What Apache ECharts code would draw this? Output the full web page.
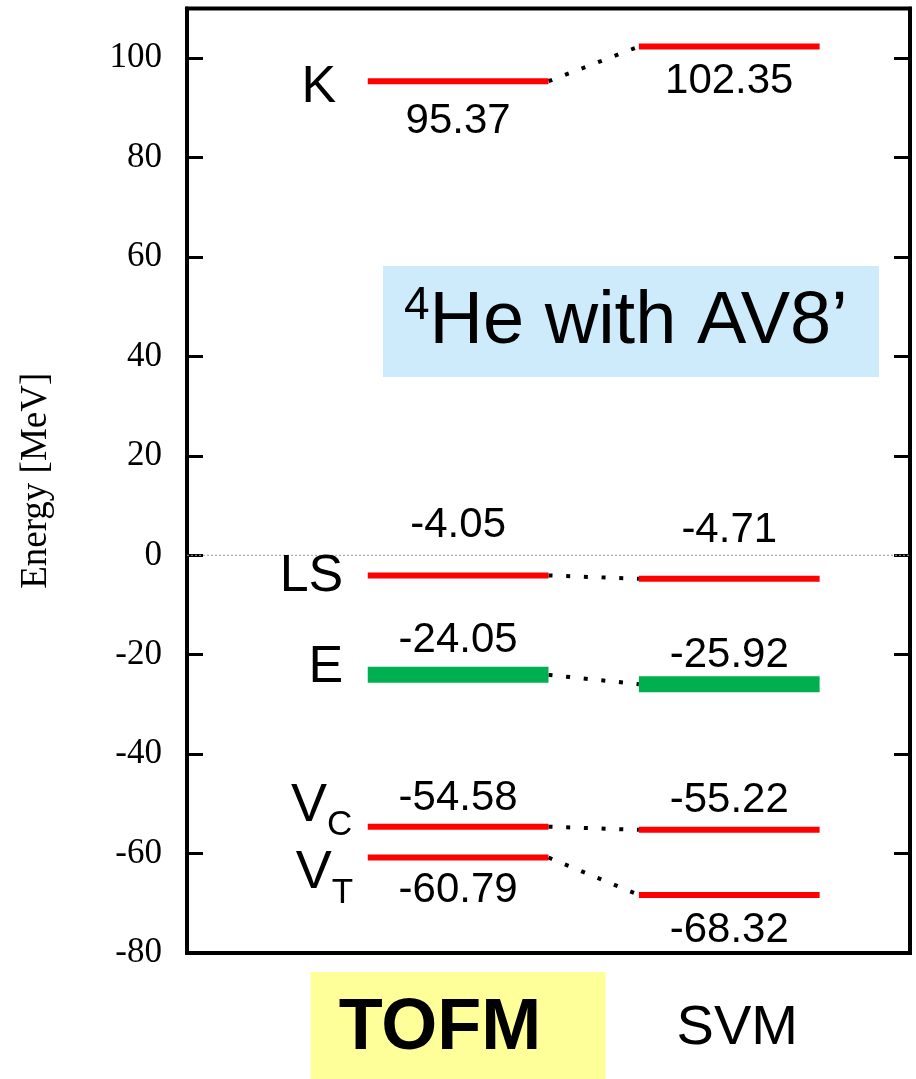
<!DOCTYPE html>
<html><head><meta charset="utf-8">
<script src="https://cdn.jsdelivr.net/npm/echarts@6/dist/echarts.min.js"></script>
<style>html,body{margin:0;padding:0;background:#fff}#c{width:916px;height:1079px}</style>
</head><body><div id="c"></div>
<script>
// ---- data ----
const methods = ['TOFM', 'SVM'];
const levels = ['K', 'LS', 'E', 'VC', 'VT'];
const tofmValues = [95.37, -4.05, -24.05, -54.58, -60.79];
const svmValues = [102.35, -4.71, -25.92, -55.22, -68.32];
const yTickLabels = [-80, -60, -40, -20, 0, 20, 40, 60, 80, 100];
const yAxisName = 'Energy [MeV]';
const titleSup = '4';
const titleMain = 'He with AV8\u2019';

// ---- layout / style ----
const SANS = '"Liberation Sans", Arial, sans-serif';
const SERIF = '"Liberation Serif", "Times New Roman", serif';
const X = { tofm: [2, 4], svm: [5, 7], tofmMid: 3, svmMid: 6 };
const nameOffsets = { K: [-7, 6], LS: [0, 1], E: [0, -7], VC: [9, -21], VT: [10, 16] };
const tofmLabelOffsets = { K: 40, LS: -50, E: -34, VC: -28, VT: 33 };
const svmLabelOffsets = { K: 35, LS: -48, E: -29, VC: -29, VT: 35 };
const levelColor = l => l === 'E' ? '#00B050' : '#FF0000';
const levelWidth = l => l === 'E' ? 16 : 6;
const levelNameText = l => l === 'VC' ? '{v|V}{s|C}' : l === 'VT' ? '{v|V}{s|T}' : '{m|' + l + '}';
const hiddenItem = { color: 'rgba(0,0,0,0)', opacity: 1 };

const series = [];
series.push({
  type: 'line', data: [[0, 0], [8, 0]], symbol: 'none', silent: true, z: 1,
  lineStyle: { color: '#9a9a9a', width: 1, type: [2, 2] }
});
levels.forEach((l, i) => {
  const t = tofmValues[i], s = svmValues[i];
  series.push({
    type: 'line', data: [[X.tofm[1], t], [X.svm[0], s]], symbol: 'none', silent: true, z: 2,
    lineStyle: { color: '#000', width: 4, type: [4, 13.7] }
  });
  series.push({
    type: 'line', data: [[X.tofm[0], t], [X.tofm[1], t]], symbol: 'none', silent: true, z: 3,
    lineStyle: { color: levelColor(l), width: levelWidth(l), cap: 'butt' }
  });
  series.push({
    type: 'line', data: [[X.svm[0], s], [X.svm[1], s]], symbol: 'none', silent: true, z: 3,
    lineStyle: { color: levelColor(l), width: levelWidth(l), cap: 'butt' }
  });
});
const valueLabel = { show: true, position: 'inside', fontSize: 42, color: '#000', opacity: 1, fontFamily: SANS,
  textBorderWidth: 0, formatter: p => p.value[1].toFixed(2) };
series.push({
  type: 'scatter', symbolSize: 1, itemStyle: hiddenItem, z: 4, silent: true,
  label: valueLabel,
  data: levels.map((l, i) => ({ value: [X.tofmMid, tofmValues[i]], label: { offset: [0, tofmLabelOffsets[l]] } }))
});
series.push({
  type: 'scatter', symbolSize: 1, itemStyle: hiddenItem, z: 4, silent: true,
  label: valueLabel,
  data: levels.map((l, i) => ({ value: [X.svmMid, svmValues[i]], label: { offset: [0, svmLabelOffsets[l]] } }))
});
series.push({
  type: 'scatter', symbolSize: 1, itemStyle: hiddenItem, z: 4, silent: true,
  label: {
    show: true, position: 'left', distance: 24, color: '#000', opacity: 1, fontFamily: SANS,
    formatter: p => levelNameText(levels[p.dataIndex]),
    rich: {
      m: { fontSize: 52, fontFamily: SANS, color: '#000' },
      v: { fontSize: 54, fontFamily: SANS, color: '#000' },
      s: { fontSize: 35, fontFamily: SANS, color: '#000', padding: [40, 0, 0, 0] }
    }
  },
  data: levels.map((l, i) => ({ value: [X.tofm[0], tofmValues[i]], label: { offset: nameOffsets[l] } }))
});

const yAxisBase = {
  type: 'value', min: -80, max: 110, interval: 20,
  axisLine: { show: true, lineStyle: { color: '#000', width: 4 } },
  axisTick: { show: true, inside: true, length: 16, lineStyle: { color: '#000', width: 3 } },
  splitLine: { show: false }
};

const chart = echarts.init(document.getElementById('c'), null, { renderer: 'canvas' });
chart.setOption({
  animation: false,
  backgroundColor: '#fff',
  grid: { left: 187, right: 6, top: 8.5, bottom: 126, show: true, borderColor: '#000', borderWidth: 4,
    containLabel: false, outerBoundsMode: 'none' },
  xAxis: {
    type: 'value', min: 0, max: 8, interval: 1,
    axisLine: { show: false }, axisTick: { show: false }, splitLine: { show: false },
    axisLabel: {
      margin: 21, showMinLabel: false, showMaxLabel: false,
      formatter: v => v === X.tofmMid ? '{t|' + methods[0] + '}' : v === X.svmMid ? '{v|' + methods[1] + '}' : '',
      rich: {
        t: { fontSize: 72, fontWeight: 'bold', fontFamily: SANS, color: '#000', backgroundColor: '#FFFF99',
          width: 267, height: 106, lineHeight: 106, align: 'left', verticalAlign: 'middle',
          padding: [4, 0, 0, 28] },
        v: { fontSize: 56, fontFamily: SANS, color: '#000', height: 106, lineHeight: 106,
          padding: [4, 0, 0, 16], verticalAlign: 'middle' }
      }
    }
  },
  yAxis: [
    Object.assign({}, yAxisBase, {
      position: 'left',
      name: yAxisName, nameLocation: 'middle', nameGap: 132,
      nameTextStyle: { fontFamily: SERIF, fontSize: 37, color: '#000' },
      axisLabel: { fontFamily: SERIF, fontSize: 35, color: '#000', margin: 25,
        formatter: v => yTickLabels.includes(v) ? String(v) : '' }
    }),
    Object.assign({}, yAxisBase, { position: 'right', axisLabel: { show: false } })
  ],
  graphic: [
    { type: 'rect', left: 383, top: 266, shape: { width: 496, height: 111 }, style: { fill: '#CDEBFA' }, z: 0 },
    { type: 'text', x: 404, y: 323, z: 1,
      style: {
        text: '{s|' + titleSup + '}{m|' + titleMain + '}', verticalAlign: 'middle',
        rich: {
          s: { fontSize: 46, fontFamily: SANS, fill: '#000', padding: [0, 0, 34, 0] },
          m: { fontSize: 74, fontFamily: SANS, fill: '#000' }
        }
      }
    }
  ],
  series: series
});
</script>
</body></html>
